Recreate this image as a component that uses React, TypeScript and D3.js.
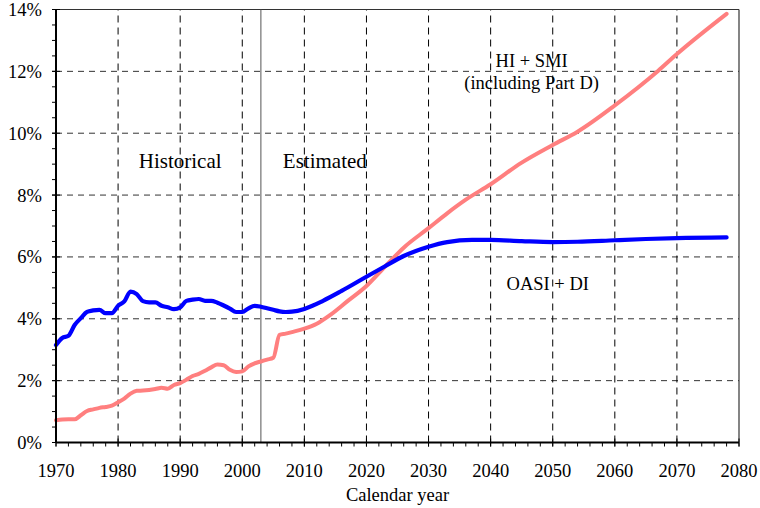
import * as d3 from 'd3';

// OASI + DI cost as % of GDP
const oasiYears = [
  1970, 1971, 1972, 1973, 1974, 1975, 1976, 1977, 1978, 1979, 1980, 1981, 1982, 1983, 1984, 1985,
  1986, 1987, 1988, 1989, 1990, 1991, 1992, 1993, 1994, 1995, 1996, 1997, 1998, 1999, 2000, 2001,
  2002, 2003, 2004, 2005, 2006, 2007, 2008, 2010, 2013, 2016, 2020, 2023, 2026, 2030, 2033, 2037,
  2040, 2045, 2050, 2054, 2060, 2065, 2070, 2078,
];
const oasiValues = [
  3.15, 3.38, 3.45, 3.8, 4.02, 4.22, 4.27, 4.29, 4.18, 4.18, 4.42, 4.56, 4.88, 4.8, 4.57, 4.53,
  4.53, 4.42, 4.37, 4.31, 4.37, 4.58, 4.62, 4.64, 4.58, 4.58, 4.52, 4.43, 4.33, 4.22, 4.22, 4.34,
  4.42, 4.39, 4.34, 4.29, 4.24, 4.22, 4.23, 4.32, 4.58, 4.9, 5.36, 5.7, 6.03, 6.33, 6.48, 6.55,
  6.55, 6.51, 6.48, 6.49, 6.54, 6.58, 6.61, 6.63,
];

// HI + SMI cost as % of GDP
const hiYears = [
  1970, 1971, 1972, 1973, 1974, 1975, 1976, 1977, 1978, 1979, 1980, 1981, 1982, 1983, 1984, 1985,
  1986, 1987, 1988, 1989, 1990, 1991, 1992, 1993, 1994, 1995, 1996, 1997, 1998, 1999, 2000, 2001,
  2002, 2003, 2004, 2005, 2006, 2007, 2008, 2010, 2012, 2014, 2017, 2020, 2023, 2026, 2030, 2033,
  2036, 2040, 2045, 2050, 2054, 2060, 2067, 2070, 2078,
];
const hiValues = [
  0.72, 0.74, 0.75, 0.75, 0.88, 1.02, 1.07, 1.12, 1.15, 1.19, 1.3, 1.42, 1.58, 1.67, 1.68, 1.7,
  1.73, 1.77, 1.74, 1.86, 1.92, 2.03, 2.15, 2.22, 2.32, 2.43, 2.52, 2.5, 2.35, 2.28, 2.3, 2.46,
  2.56, 2.62, 2.68, 2.74, 3.48, 3.52, 3.57, 3.68, 3.84, 4.1, 4.58, 5.06, 5.69, 6.3, 6.93, 7.41,
  7.85, 8.35, 9.05, 9.62, 10.05, 10.9, 12.02, 12.56, 13.86,
];

const xTicks = d3.range(1970, 2081, 10);
const yTicks = d3.range(0, 15, 2);
const splitYear = 2003;

const W = 760;
const H = 508;
const m = { left: 56, right: 21, top: 9.5, bottom: 65.5 };
const font = '"Liberation Serif", "Times New Roman", serif';

export default function App() {
  const x = d3.scaleLinear().domain([1970, 2080]).range([m.left, W - m.right]);
  const y = d3.scaleLinear().domain([0, 14]).range([H - m.bottom, m.top]);

  const line = d3
    .line<[number, number]>()
    .x((d) => x(d[0]))
    .y((d) => y(d[1]))
    .curve(d3.curveMonotoneX);

  const oasi = oasiYears.map((yr, i) => [yr, oasiValues[i]] as [number, number]);
  const hi = hiYears.map((yr, i) => [yr, hiValues[i]] as [number, number]);

  const minorX = d3.range(1970, 2081, 2);
  const minorY = d3.range(0, 14.01, 0.5);
  const x0 = x(1970);
  const x1 = x(2080);
  const y0 = y(0);
  const y1 = y(14);

  return (
    <svg
      width={W}
      height={H}
      style={{ position: 'absolute', left: 0, top: 0, background: '#fff' }}
      fontFamily={font}
    >
      {/* grid */}
      {yTicks.filter((t) => t > 0).map((t) => (
        <line key={'gy' + t} x1={x0} x2={x1} y1={y(t)} y2={y(t)} stroke="#333" strokeWidth={1} strokeDasharray="6,5" />
      ))}
      {xTicks.filter((t) => t > 1970 && t < 2080).map((t) => (
        <line key={'gx' + t} x1={x(t)} x2={x(t)} y1={y0} y2={y1} stroke="#000" strokeWidth={1} strokeDasharray="7,5" />
      ))}

      {/* frame top / right */}
      <line x1={x0} x2={x1} y1={y1} y2={y1} stroke="#333" strokeWidth={1} />
      <line x1={x1} x2={x1} y1={y1} y2={y0} stroke="#333" strokeWidth={1.2} />

      {/* historical / estimated split */}
      <line x1={x(splitYear)} x2={x(splitYear)} y1={y1} y2={y0} stroke="#555" strokeWidth={1} />

      {/* series */}
      <path d={line(hi) || ''} fill="none" stroke="#ff7f7f" strokeWidth={4} strokeLinecap="round" strokeLinejoin="round" />
      <path d={line(oasi) || ''} fill="none" stroke="#0000ff" strokeWidth={4.2} strokeLinecap="round" strokeLinejoin="round" />

      {/* axes */}
      <line x1={x0} x2={x0} y1={y1} y2={y0} stroke="#000" strokeWidth={2} />
      <line x1={x0} x2={x1} y1={y0} y2={y0} stroke="#000" strokeWidth={2} />
      {minorY.map((t) => (
        <line key={'my' + t} x1={x0 - 4} x2={x0} y1={y(t)} y2={y(t)} stroke="#000" strokeWidth={1} />
      ))}
      {yTicks.map((t) => (
        <line key={'ty' + t} x1={x0 - 4} x2={x0 + 4} y1={y(t)} y2={y(t)} stroke="#000" strokeWidth={1} />
      ))}
      {minorX.map((t) => (
        <line key={'mx' + t} x1={x(t)} x2={x(t)} y1={y0} y2={y0 + 4} stroke="#000" strokeWidth={1} />
      ))}
      {xTicks.map((t) => (
        <line key={'tx' + t} x1={x(t)} x2={x(t)} y1={y0 - 4} y2={y0 + 4} stroke="#000" strokeWidth={1} />
      ))}

      {/* tick labels */}
      {yTicks.map((t) => (
        <text key={'ly' + t} x={x0 - 14} y={y(t)} dy="0.35em" textAnchor="end" fontSize={18.5} fill="#000">
          {t + '%'}
        </text>
      ))}
      {xTicks.map((t) => (
        <text key={'lx' + t} x={x(t)} y={y0 + 34} textAnchor="middle" fontSize={18.5} fill="#000">
          {t}
        </text>
      ))}
      <text x={(x0 + x1) / 2} y={H - 7} textAnchor="middle" fontSize={18.5} fill="#000">
        Calendar year
      </text>

      {/* annotations */}
      <text x={x(1990)} y={y(9.1)} dy="0.35em" textAnchor="middle" fontSize={21} fill="#000">Historical</text>
      <text x={x(2013.3)} y={y(9.1)} dy="0.35em" textAnchor="middle" fontSize={21} fill="#000">Estimated</text>
      <text x={x(2046.6)} y={y(12.35)} dy="0.35em" textAnchor="middle" fontSize={18.5} fill="#000">HI + SMI</text>
      <text x={x(2046.6)} y={y(11.65)} dy="0.35em" textAnchor="middle" fontSize={18.5} fill="#000">(including Part D)</text>
      <text x={x(2049.2)} y={y(5.15)} dy="0.35em" textAnchor="middle" fontSize={18.5} fill="#000">OASI + DI</text>
    </svg>
  );
}
